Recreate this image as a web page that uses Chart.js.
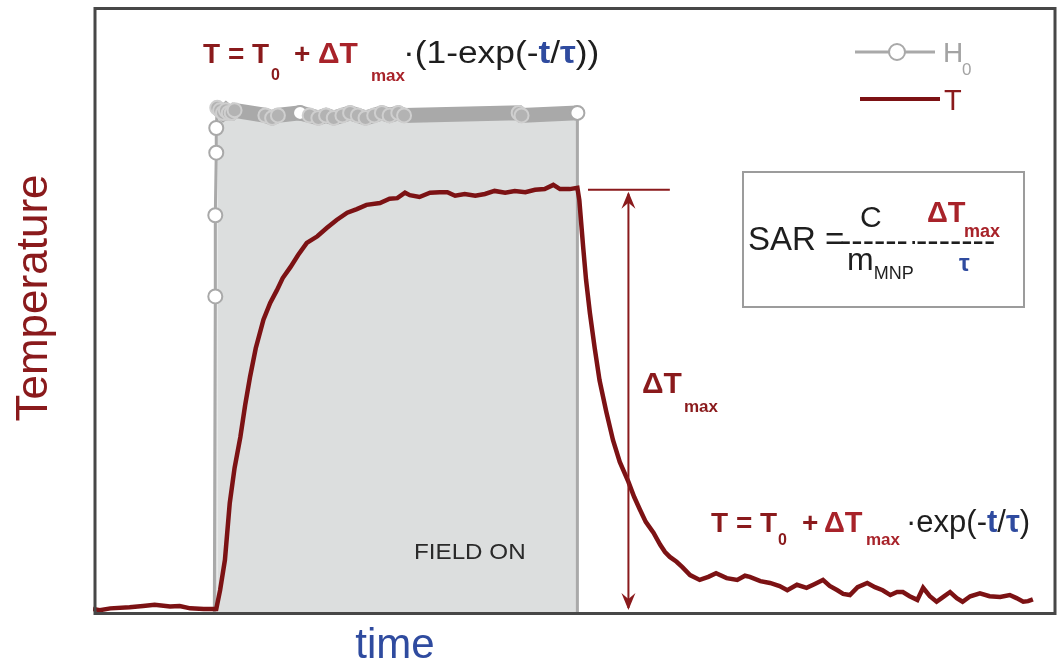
<!DOCTYPE html>
<html>
<head>
<meta charset="utf-8">
<title>Heating curve – SAR</title>
<script src="https://cdn.jsdelivr.net/npm/chart.js@4.4.1/dist/chart.umd.min.js"></script>
<style>
  html, body { margin: 0; padding: 0; background: #ffffff; }
  canvas { display: block; }
</style>
</head>
<body>
<canvas id="chart" width="1060" height="664"></canvas>
<script>
// Temperature trace, arbitrary units (time 0–100, temperature 0–100)
const TIME = [
  0, 0.7, 1.8, 3.8, 5.2, 6.4, 8.0, 9.0, 10.1, 11.5, 12.8,
  13.2, 13.7, 14.2, 14.7, 15.3, 15.8, 16.3, 16.9, 17.7, 18.4, 19.1, 19.7, 20.5, 21.3,
  22.2, 23.3, 24.3, 25.3, 26.4, 27.4, 28.4, 29.8, 30.8, 31.6, 32.4, 32.9, 33.9, 35.0,
  36.0, 36.8, 37.6, 38.6, 39.7, 40.7, 41.7, 42.8, 43.8, 44.9, 45.9, 46.9, 47.8, 48.5,
  49.5, 50.3,
  50.5, 50.9, 51.2, 51.6, 52.1, 52.6, 53.3, 54.0, 54.7, 55.6, 56.2, 56.8, 57.4, 58.2,
  58.9, 59.4, 59.9, 60.6, 61.2, 62.0, 63.0, 63.9, 64.7, 65.8, 66.9, 67.7, 68.2, 69.3,
  70.3, 71.3, 72.1, 73.1, 74.1, 74.9, 75.8, 76.5, 77.3, 77.9, 78.6, 79.4, 80.4, 81.2,
  82.0, 82.8, 83.5, 84.1, 84.8, 85.6, 86.2, 86.9, 87.6, 88.3, 89.0, 89.7, 90.3, 91.1,
  92.1, 93.1, 94.2, 95.2, 95.9, 96.6, 97.1, 97.6
];
const TEMP = [
  0.5, 0.3, 0.6, 0.8, 1.0, 1.2, 0.9, 1.0, 0.6, 0.5, 0.5,
  3.6, 8.6, 18.0, 23.8, 28.9, 34.2, 38.8, 43.6, 48.3, 51.1, 53.2, 55.2, 57.0, 59.0,
  61.0, 62.1, 63.5, 64.8, 66.0, 66.6, 67.3, 67.6, 68.3, 68.4, 69.3, 68.9, 68.6, 69.3,
  69.4, 69.4, 68.8, 69.1, 68.8, 69.1, 69.6, 69.3, 69.6, 69.4, 69.8, 69.9, 70.6, 69.9,
  69.9, 70.1,
  68.1, 60.3, 54.9, 49.4, 43.6, 38.3, 33.1, 28.4, 24.8, 21.5, 19.0, 16.9, 14.9, 13.1,
  11.1, 9.9, 9.1, 8.3, 7.4, 6.1, 5.3, 5.8, 6.4, 5.6, 5.3, 6.0, 5.8, 5.1,
  4.8, 4.3, 3.6, 4.5, 4.0, 4.6, 5.3, 4.3, 3.6, 3.0, 2.8, 4.1, 4.8, 4.1,
  3.6, 2.8, 3.3, 3.3, 2.6, 2.0, 4.0, 2.6, 1.7, 2.5, 3.3, 2.3, 1.7, 2.6,
  3.1, 2.6, 2.5, 2.8, 2.3, 1.7, 1.8, 2.1
];

// Applied field amplitude H0 (normalised, 0 = off)
const H0_TIME = [
  12.6, 12.7, 12.7, 12.8, 12.8, 12.9,
  13.2, 13.5, 13.8, 14.1, 14.4, 14.7,
  17.9, 18.6, 19.2, 21.5, 22.5, 23.4, 24.2, 25.0, 25.9, 26.7, 27.5, 28.3, 29.2,
  30.0, 30.8, 31.7, 32.3,
  44.2, 44.5,
  50.3, 50.3
];
const H0_FIELD = [
  0, 0.626, 0.787, 0.911, 0.960, 1.0,
  0.995, 0.99, 0.995, 0.99, 0.99, 0.995,
  0.985, 0.98, 0.985, 0.99, 0.985, 0.98, 0.985, 0.98, 0.985, 0.99, 0.985, 0.98, 0.985,
  0.99, 0.985, 0.99, 0.985,
  0.99, 0.985,
  0.99, 0
];

// Temperature rise between the baseline and the plateau (ΔTmax marker)
const T_BASE = 0;
const T_PEAK = 69.8;
const DT_MARK_TIME = 55.6;
const DT_TICK_FROM = 51.4;
const DT_TICK_TO = 59.9;

const FONT = '"Liberation Sans", Arial, Helvetica, sans-serif';
const DARK_RED = '#8a1a1c';
const RED = '#a8232a';
const BLUE = '#2f4b9f';
const INK = '#1e1e1e';
const GREY = '#a9a9a9';

const toPoints = (xs, ys) => xs.map((x, i) => ({ x, y: ys[i] }));

// draw a row of text pieces, each with its own font/colour/offset;
// sx stretches a piece horizontally
function drawRuns(ctx, x, y, parts) {
  let cx = x;
  for (const p of parts) {
    ctx.font = (p.bold ? 'bold ' : '') + p.size + 'px ' + FONT;
    ctx.fillStyle = p.color;
    if (p.x !== undefined) cx = p.x;
    const sx = p.sx || 1;
    ctx.save();
    ctx.translate(cx, y + (p.dy || 0));
    ctx.scale(sx, 1);
    ctx.fillText(p.t, 0, 0);
    ctx.restore();
    cx += ctx.measureText(p.t).width * sx;
  }
}

function arrowHead(ctx, x, y, dir) {
  // dir = -1 points up, +1 points down
  ctx.beginPath();
  ctx.moveTo(x, y);
  ctx.lineTo(x - 7, y - dir * 17);
  ctx.lineTo(x, y - dir * 11);
  ctx.lineTo(x + 7, y - dir * 17);
  ctx.closePath();
  ctx.fill();
}

// markers that sit close to a neighbour merge into a grey band
function isCrowded(c) {
  const d = c.dataset.data;
  const i = c.dataIndex;
  const near = j => j >= 0 && j < d.length && d[j].y > 0 && Math.abs(d[j].x - d[i].x) < 1.0 && Math.abs(d[j].y - d[i].y) < 0.03;
  return near(i - 1) || near(i + 1);
}

const annotations = {
  id: 'annotations',
  afterDatasetsDraw(chart) {
    const { ctx, scales: { x, y } } = chart;
    ctx.save();

    // plot frame
    ctx.strokeStyle = '#474747';
    ctx.lineWidth = 3;
    ctx.strokeRect(95, 8.5, 960, 605);

    // label inside the field-on window
    drawRuns(ctx, 414, 559, [{ t: 'FIELD ON', size: 22, color: '#2a2a2a', sx: 1.1 }]);

    // ΔTmax double arrow
    const ax = x.getPixelForValue(DT_MARK_TIME);
    const yTop = y.getPixelForValue(T_PEAK);
    const yBot = y.getPixelForValue(T_BASE);
    ctx.strokeStyle = DARK_RED;
    ctx.fillStyle = DARK_RED;
    ctx.lineWidth = 2;
    ctx.beginPath();
    ctx.moveTo(x.getPixelForValue(DT_TICK_FROM), yTop);
    ctx.lineTo(x.getPixelForValue(DT_TICK_TO), yTop);
    ctx.moveTo(ax, yTop + 4);
    ctx.lineTo(ax, yBot - 4);
    ctx.stroke();
    arrowHead(ctx, ax, yTop + 2, -1);
    arrowHead(ctx, ax, yBot - 2, 1);

    drawRuns(ctx, 642, 393, [
      { t: 'ΔT', size: 30, bold: true, color: DARK_RED },
      { t: 'max', size: 17, bold: true, color: DARK_RED, dy: 19, x: 684 }
    ]);

    // heating law
    drawRuns(ctx, 203, 63, [
      { t: 'T = T', size: 28, bold: true, color: DARK_RED },
      { t: '0', size: 16, bold: true, color: DARK_RED, dy: 17, x: 271 },
      { t: '+', size: 28, bold: true, color: DARK_RED, x: 294 },
      { t: 'ΔT', size: 30, bold: true, color: RED, x: 318 },
      { t: 'max', size: 17, bold: true, color: RED, dy: 18, x: 371 },
      { t: '·(1-exp(-', size: 31, color: INK, x: 403, sx: 1.14 },
      { t: 't', size: 31, bold: true, color: BLUE, sx: 1.14 },
      { t: '/', size: 31, color: INK, sx: 1.14 },
      { t: 'τ', size: 31, bold: true, color: BLUE, sx: 1.14 },
      { t: '))', size: 31, color: INK, sx: 1.14 }
    ]);

    // cooling law
    drawRuns(ctx, 711, 532, [
      { t: 'T = T', size: 28, bold: true, color: DARK_RED },
      { t: '0', size: 16, bold: true, color: DARK_RED, dy: 13, x: 778 },
      { t: '+', size: 28, bold: true, color: DARK_RED, x: 802 },
      { t: 'ΔT', size: 29, bold: true, color: RED, x: 824 },
      { t: 'max', size: 17, bold: true, color: RED, dy: 13, x: 866 },
      { t: '·exp(-', size: 31, color: INK, x: 906 },
      { t: 't', size: 31, bold: true, color: BLUE },
      { t: '/', size: 31, color: INK },
      { t: 'τ', size: 31, bold: true, color: BLUE },
      { t: ')', size: 31, color: INK }
    ]);

    // SAR box
    ctx.fillStyle = '#ffffff';
    ctx.fillRect(743, 172, 281, 135);
    ctx.strokeStyle = '#9c9c9c';
    ctx.lineWidth = 2;
    ctx.strokeRect(743, 172, 281, 135);
    drawRuns(ctx, 748, 250, [{ t: 'SAR =', size: 33, color: INK }]);
    drawRuns(ctx, 840, 252, [
      { t: '------', size: 34, color: INK },
      { t: '·', size: 28, color: INK, x: 909, dy: -2 },
      { t: '-------', size: 34, color: INK, x: 916 }
    ]);
    drawRuns(ctx, 860, 227, [{ t: 'C', size: 30, color: INK }]);
    drawRuns(ctx, 847, 270, [
      { t: 'm', size: 32, color: INK },
      { t: 'MNP', size: 18, color: INK, dy: 9 }
    ]);
    drawRuns(ctx, 927, 222, [
      { t: 'ΔT', size: 29, bold: true, color: RED },
      { t: 'max', size: 18, bold: true, color: RED, dy: 15, x: 964 }
    ]);
    drawRuns(ctx, 959, 271, [{ t: 'τ', size: 24, bold: true, color: BLUE }]);

    // legend
    const h0 = chart.data.datasets[1];
    const tr = chart.data.datasets[0];
    ctx.strokeStyle = h0.borderColor;
    ctx.lineWidth = 3;
    ctx.beginPath();
    ctx.moveTo(855, 52); ctx.lineTo(935, 52);
    ctx.stroke();
    ctx.beginPath();
    ctx.arc(897, 52, 8, 0, Math.PI * 2);
    ctx.fillStyle = '#ffffff';
    ctx.fill();
    ctx.lineWidth = 2;
    ctx.stroke();
    drawRuns(ctx, 943, 62, [
      { t: 'H', size: 28, color: '#a3a3a3' },
      { t: '0', size: 17, color: '#a3a3a3', dy: 13, x: 962 }
    ]);
    ctx.strokeStyle = tr.borderColor;
    ctx.lineWidth = 4;
    ctx.beginPath();
    ctx.moveTo(860, 99); ctx.lineTo(940, 99);
    ctx.stroke();
    drawRuns(ctx, 944, 110, [{ t: 'T', size: 29, color: DARK_RED }]);

    // axis titles
    ctx.fillStyle = DARK_RED;
    ctx.font = '44px ' + FONT;
    ctx.textAlign = 'center';
    ctx.save();
    ctx.translate(47, 298);
    ctx.rotate(-Math.PI / 2);
    ctx.fillText('Temperature', 0, 0);
    ctx.restore();
    ctx.fillStyle = BLUE;
    ctx.font = '42px ' + FONT;
    ctx.fillText('time', 395, 658);

    ctx.restore();
  }
};

new Chart(document.getElementById('chart'), {
  type: 'line',
  data: {
    datasets: [
      {
        label: 'T',
        data: toPoints(TIME, TEMP),
        yAxisID: 'y',
        borderColor: '#7c1214',
        borderWidth: 4.5,
        pointRadius: 0,
        tension: 0,
        fill: false,
        order: 0
      },
      {
        label: 'H0',
        data: toPoints(H0_TIME, H0_FIELD),
        yAxisID: 'yH',
        borderColor: GREY,
        borderWidth: 3,
        backgroundColor: '#dcdede',
        fill: 'origin',
        tension: 0,
        pointRadius: c => (c.raw && c.raw.y > 0 ? 7 : 0),
        pointBackgroundColor: c => (c.raw && c.raw.y > 0.97 && isCrowded(c) ? '#b3b3b3' : '#ffffff'),
        pointBorderColor: c => (c.raw && c.raw.y > 0.97 && isCrowded(c) ? '#cfcfcf' : GREY),
        pointBorderWidth: 2,
        segment: {
          borderWidth: c => (c.p0.parsed.y > 0.97 && c.p1.parsed.y > 0.97 ? 15 : 3)
        },
        order: 1
      }
    ]
  },
  options: {
    responsive: false,
    animation: false,
    devicePixelRatio: 1,
    layout: { padding: { left: 93, top: 7, right: 4, bottom: 52 } },
    scales: {
      x: { type: 'linear', min: 0, max: 100, display: false },
      y: { type: 'linear', min: 0, max: 100, display: false },
      yH: { type: 'linear', min: 0, max: 1.2, display: false }
    },
    plugins: {
      legend: { display: false },
      tooltip: { enabled: false }
    }
  },
  plugins: [annotations]
});
</script>
</body>
</html>
